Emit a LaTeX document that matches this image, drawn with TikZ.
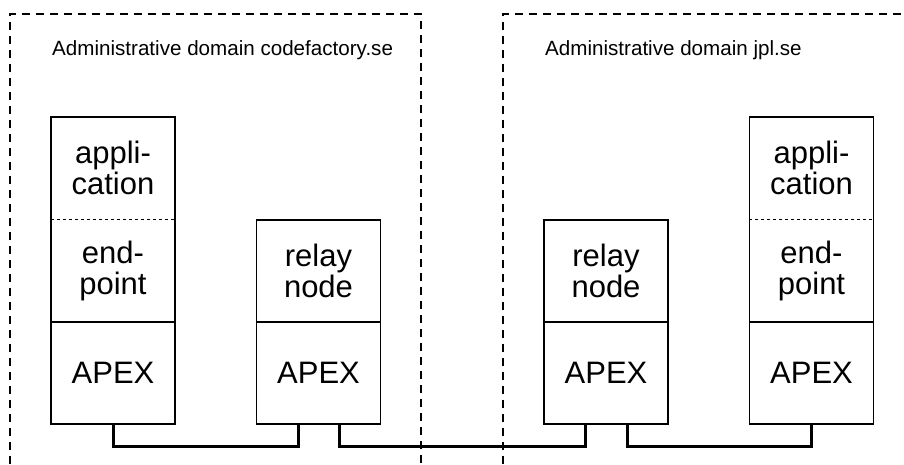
\documentclass[tikz,border=0pt]{standalone}
\usepackage{fontspec}
\setmainfont{Liberation Sans}
\tikzstyle{layer}=[inner sep=0pt, minimum width=124pt, minimum height=102pt, align=center, font=\fontsize{31}{31}\selectfont]
\tikzstyle{stacklayer}=[layer, draw, line width=1.5pt]
\tikzstyle{domainline}=[dash pattern=on 8pt off 6pt, line width=1.5pt]
\tikzstyle{domainlabel}=[inner sep=0pt, anchor=base west, font=\fontsize{20.6}{24}\selectfont]
\tikzstyle{split}=[dash pattern=on 3pt off 3pt, line width=1.2pt]
\tikzstyle{link}=[line width=3pt]

\begin{document}
\begin{tikzpicture}[x=1pt, y=-1pt]
        \useasboundingbox (0,0) rectangle (904,464);
        \draw[domainline] (10,464) -- (10,14) -- (421,14) -- (421,464);
        \draw[domainline] (503,464) -- (503,14) -- (904,14);
        \node[domainlabel] (dom1) at (52,55) {Administrative domain codefactory.se};
        \node[domainlabel] (dom2) at (545,55) {Administrative domain jpl.se};
        \node[layer]      (app1)  at (113,168)   {appli-\\cation};
        \node[layer]      (end1)  at (113,270.5) {end-\\point};
        \node[stacklayer] (apex1) at (113,373)   {APEX};
        \node[stacklayer] (relay1) at (318.5,271) {relay\\node};
        \node[stacklayer] (apex2) at (318.5,373) {APEX};
        \node[stacklayer] (relay2) at (606,271)  {relay\\node};
        \node[stacklayer] (apex3) at (606,373)   {APEX};
        \node[layer]      (app2)  at (811.5,168)   {appli-\\cation};
        \node[layer]      (end2)  at (811.5,270.5) {end-\\point};
        \node[stacklayer] (apex4) at (811.5,373)   {APEX};
        \draw[line width=1.5pt] (app1.north west) rectangle (end1.south east);
        \draw[line width=1.5pt] (app2.north west) rectangle (end2.south east);
        \draw[split] (app1.south west) -- (app1.south east);
        \draw[split] (app2.south west) -- (app2.south east);
        \draw[link] (apex1.south) -- ++(0,22) -| ([xshift=-20.5pt]apex2.south);
        \draw[link] ([xshift=20.5pt]apex2.south) -- ++(0,22) -| ([xshift=-21pt]apex3.south);
        \draw[link] ([xshift=21pt]apex3.south) -- ++(0,22) -| (apex4.south);
    \end{tikzpicture}
\end{document}
